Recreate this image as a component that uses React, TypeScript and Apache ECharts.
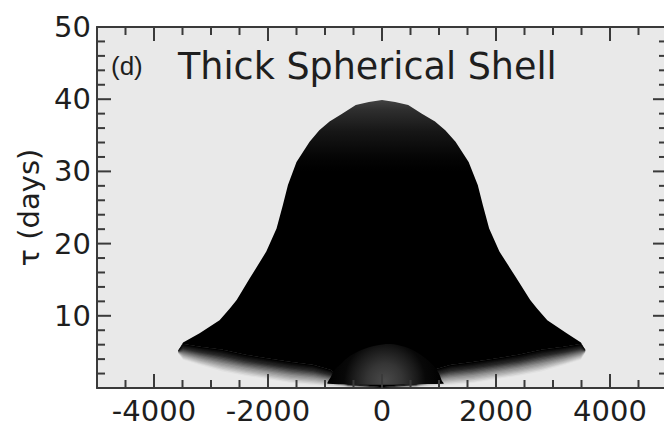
import React, { useEffect, useRef } from "react";
import * as echarts from "echarts";

// ---- data (velocity in km/s, delay tau in days) ----
// upper edge of the response (left tip -> top -> right tip)
const upperVel = [-3575, -3490, -3200, -2850, -2670, -2550, -2320, -2030, -1850, -1740, -1650, -1500, -1270, -1100, -920, -700, -460, -230, 0, 230, 460, 700, 930, 1110, 1290, 1520, 1680, 1770, 1880, 2060, 2360, 2600, 2720, 2900, 3240, 3490, 3565];
const upperTau = [5.2, 6.3, 7.6, 9.4, 11.0, 12.2, 15.2, 18.9, 22.1, 25.3, 28.1, 31.3, 34.1, 35.7, 36.9, 38.0, 39.2, 39.6, 39.9, 39.6, 39.2, 38.0, 36.9, 35.7, 34.1, 31.3, 28.1, 25.3, 22.1, 18.9, 15.2, 12.2, 11.0, 9.4, 7.6, 6.3, 5.3];

// lower edge of the solid part and lower edge of the faded part
const lowerVel = [-3575, -3490, -3200, -2800, -2400, -2000, -1600, -1200, -900, -600, 0, 600, 900, 1200, 1600, 2000, 2400, 2800, 3200, 3490, 3565];
const solidLowerTau = [5.2, 6.1, 5.7, 5.3, 4.6, 4.1, 3.6, 3.2, 2.5, 0.6, 0.1, 0.6, 2.5, 3.2, 3.6, 4.1, 4.6, 5.3, 5.7, 6.1, 5.3];
const fadeLowerTau = [4.8, 3.9, 3.2, 2.3, 1.7, 1.2, 0.7, 0.4, 0.2, 0.1, 0.05, 0.1, 0.2, 0.4, 0.7, 1.2, 1.7, 2.3, 3.2, 3.9, 4.9];

// lighter "bowl" near zero velocity at short delays
const bowlVel = [-950, -900, -830, -700, -570, -350, -100, 150, 400, 600, 750, 900, 1000, 1050, 1080];
const bowlTau = [0.6, 1.5, 2.5, 3.5, 4.4, 5.3, 5.9, 6.1, 5.7, 5.0, 4.2, 3.1, 2.0, 1.0, 0.6];

// ticks
const xMajorTicks = [-4000, -2000, 0, 2000, 4000];
const xMinorTicks = [-4500, -3500, -3000, -2500, -1500, -1000, -500, 500, 1000, 1500, 2500, 3000, 3500, 4500];
const yMajorTicks = [10, 20, 30, 40];
const yMinorTicks = [2, 4, 6, 8, 12, 14, 16, 18, 22, 24, 26, 28, 32, 34, 36, 38, 42, 44, 46, 48];
const yLabelTicks = [10, 20, 30, 40, 50];

const yAxisName = "τ (days)";
const panelLabel = "(d)";
const titleText = "Thick Spherical Shell";

const FONT = "DejaVu Sans";
const AXIS_COLOR = "#3a3a3a";
const TEXT_COLOR = "#1e1e1e";

const GRID = { left: 97, right: -3, top: 27, bottom: 35 };
const W = 664;
const H = 423;
const X_MIN = -5000;
const X_MAX = 5000;
const Y_MIN = 0;
const Y_MAX = 50;

// opacity profile of the faded band, from its solid edge (0) to its outer edge (1)
const fadeProfile = (t: number) => {
  const pts = [[0, 1], [0.3, 0.8], [0.65, 0.36], [1, 0]];
  for (let i = 0; i < pts.length - 1; i++) {
    const [t0, o0] = pts[i];
    const [t1, o1] = pts[i + 1];
    if (t <= t1) return o0 + ((o1 - o0) * (t - t0)) / (t1 - t0);
  }
  return 0;
};
const FADE_LAYERS = 16;

export default function App() {
  const ref = useRef<HTMLDivElement>(null);

  useEffect(() => {
    document.body.style.margin = "0";
    document.documentElement.style.overflow = "hidden";
    const chart = echarts.init(ref.current!, null, { renderer: "svg" });

    const axisLine = { show: true, onZero: false, lineStyle: { color: AXIS_COLOR, width: 2 } };
    const xBase = { type: "value" as const, min: X_MIN, max: X_MAX, gridIndex: 0, splitLine: { show: false }, axisTick: { show: false } };
    const yBase = { type: "value" as const, min: Y_MIN, max: Y_MAX, gridIndex: 0, splitLine: { show: false }, axisTick: { show: false } };

    const layerAlpha: number[] = [];
    {
      let below = 0;
      for (let k = FADE_LAYERS; k >= 1; k--) {
        const tMid = (k - 0.5) / FADE_LAYERS;
        const target = Math.min(0.999, fadeProfile(tMid));
        const a = 1 - (1 - target) / (1 - below);
        layerAlpha[k] = Math.max(0, Math.min(1, a));
        below = 1 - (1 - below) * (1 - layerAlpha[k]);
      }
    }

    // inward-pointing ticks on all four sides, placed through the axis scales
    const buildTicks = (api: any) => {
      const out: any[] = [];
      const bar = (x: number, y: number, w: number, h: number) =>
        out.push({ type: "rect", shape: { x, y, width: w, height: h }, style: { fill: AXIS_COLOR } });
      const xTick = (v: number, len: number) => {
        const b = api.coord([v, Y_MIN]);
        const t = api.coord([v, Y_MAX]);
        bar(b[0] - 1, b[1] - len, 2, len);
        bar(t[0] - 1, t[1], 2, len);
      };
      const yTick = (v: number, len: number) => {
        const l = api.coord([X_MIN, v]);
        const r = api.coord([X_MAX, v]);
        bar(l[0], l[1] - 1, len, 2);
        bar(r[0] - len, r[1] - 1, len, 2);
      };
      xMajorTicks.forEach((v) => xTick(v, 14));
      xMinorTicks.forEach((v) => xTick(v, 8));
      yMajorTicks.forEach((v) => yTick(v, 14));
      yMinorTicks.forEach((v) => yTick(v, 8));
      return out;
    };

    const option: any = {
      animation: false,
      grid: { ...GRID, show: false, containLabel: false, outerBoundsMode: "none" },
      xAxis: [
        {
          ...xBase,
          position: "bottom",
          axisLine,
          axisLabel: {
            customValues: xMajorTicks,
            fontSize: 29,
            fontFamily: FONT,
            color: TEXT_COLOR,
            margin: 8,
            formatter: (v: number) => String(v),
          },
        },
        { ...xBase, position: "top", axisLine, axisLabel: { show: false } },
      ],
      yAxis: [
        {
          ...yBase,
          position: "left",
          axisLine,
          axisLabel: {
            customValues: yLabelTicks,
            fontSize: 29,
            fontFamily: FONT,
            color: TEXT_COLOR,
            margin: 6,
            formatter: (v: number) => String(v),
          },
          name: yAxisName,
          nameLocation: "middle",
          nameGap: 52,
          nameTextStyle: { fontSize: 29, fontFamily: FONT, color: TEXT_COLOR },
        },
        { ...yBase, position: "right", axisLine, axisLabel: { show: false } },
      ],
      graphic: [
        {
          type: "rect",
          z: -10,
          silent: true,
          shape: { x: GRID.left, y: GRID.top, width: W - GRID.left - GRID.right, height: H - GRID.top - GRID.bottom },
          style: { fill: "#e9e9e9" },
        },
        {
          type: "text",
          x: 111,
          y: 66,
          z: 20,
          silent: true,
          style: { text: panelLabel, font: `26px "Liberation Sans"`, fill: TEXT_COLOR, align: "left", verticalAlign: "middle" },
        },
        {
          type: "text",
          x: 178,
          y: 66,
          z: 20,
          silent: true,
          style: { text: titleText, font: `36.5px "${FONT}"`, fill: TEXT_COLOR, align: "left", verticalAlign: "middle" },
        },
      ],
      series: [
        {
          // faded lower band: stacked translucent layers following the band's shape
          type: "custom",
          coordinateSystem: "cartesian2d",
          silent: true,
          clip: true,
          data: lowerVel.map((v, i) => [v, solidLowerTau[i], fadeLowerTau[i]]),
          renderItem: (params: any, api: any) => {
            if (params.dataIndex !== 0) return null;
            const top = lowerVel.map((v, i) => api.coord([v, solidLowerTau[i]]));
            const bot = lowerVel.map((v, i) => api.coord([v, fadeLowerTau[i]]));
            const children: any[] = [];
            for (let k = 1; k <= FADE_LAYERS; k++) {
              const f = k / FADE_LAYERS;
              const pts: number[][] = top.map((p) => [p[0], p[1]]);
              for (let i = top.length - 1; i >= 0; i--) {
                pts.push([top[i][0] + (bot[i][0] - top[i][0]) * f, top[i][1] + (bot[i][1] - top[i][1]) * f]);
              }
              children.push({
                type: "polygon",
                shape: { points: pts },
                style: { fill: `rgba(0,0,0,${layerAlpha[k].toFixed(4)})` },
              });
            }
            return { type: "group", children };
          },
        },
        {
          // main solid body
          type: "custom",
          coordinateSystem: "cartesian2d",
          silent: true,
          clip: true,
          data: upperVel.map((v, i) => [v, upperTau[i]]),
          renderItem: (params: any, api: any) => {
            if (params.dataIndex !== 0) return null;
            const pts: number[][] = [];
            upperVel.forEach((v, i) => pts.push(api.coord([v, upperTau[i]])));
            for (let i = lowerVel.length - 1; i >= 0; i--) pts.push(api.coord([lowerVel[i], solidLowerTau[i]]));
            const yTop = api.coord([0, 40])[1];
            const yMid = api.coord([0, 30])[1];
            const grad = new echarts.graphic.LinearGradient(
              0, yTop, 0, yMid,
              [
                { offset: 0, color: "#444444" },
                { offset: 0.15, color: "#2e2e2e" },
                { offset: 0.45, color: "#161616" },
                { offset: 0.8, color: "#050505" },
                { offset: 1, color: "#000000" },
              ],
              true
            );
            return { type: "polygon", shape: { points: pts }, style: { fill: grad } };
          },
        },
        {
          // lighter bowl at low velocity, plus the frame ticks drawn on top
          type: "custom",
          coordinateSystem: "cartesian2d",
          silent: true,
          clip: true,
          data: bowlVel.map((v, i) => [v, bowlTau[i]]),
          renderItem: (params: any, api: any) => {
            if (params.dataIndex !== 0) return null;
            const pts = bowlVel.map((v, i) => api.coord([v, bowlTau[i]]));
            const c = api.coord([50, 1.0]);
            const grad = new echarts.graphic.RadialGradient(
              c[0], c[1], 58,
              [
                { offset: 0, color: "#4a4a4a" },
                { offset: 0.3, color: "#353535" },
                { offset: 0.55, color: "#1a1a1a" },
                { offset: 0.7, color: "#080808" },
                { offset: 1, color: "#000000" },
              ],
              true
            );
            return {
              type: "group",
              children: [
                { type: "polygon", shape: { points: pts, smooth: 0.3 }, style: { fill: grad } },
                ...buildTicks(api),
              ],
            };
          },
        },
      ],
    };

    chart.setOption(option);
    return () => chart.dispose();
  }, []);

  return <div ref={ref} style={{ width: W, height: H }} />;
}
